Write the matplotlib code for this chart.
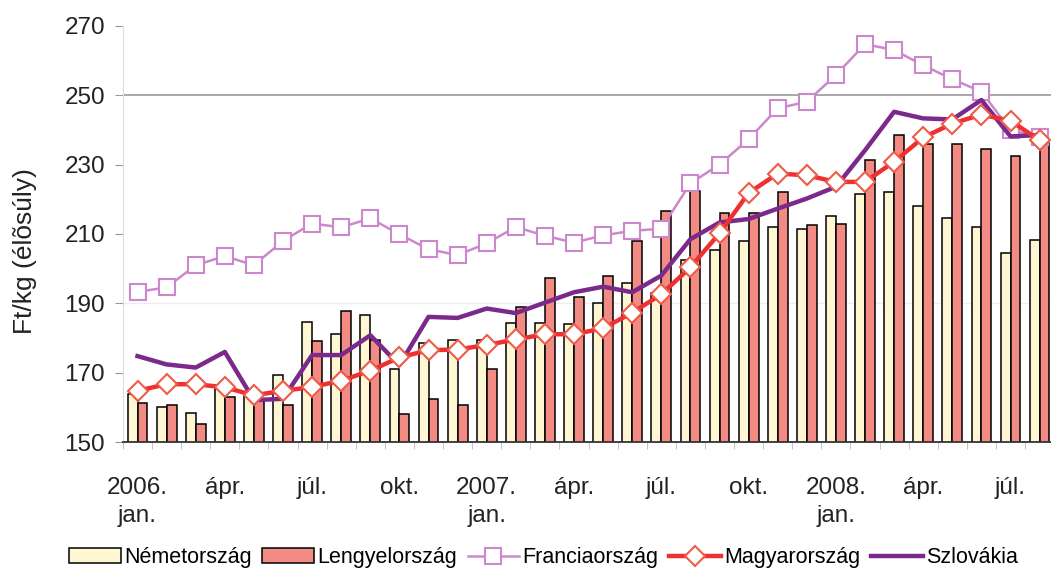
import matplotlib
matplotlib.use('Agg')
import matplotlib.pyplot as plt
import numpy as np

# Havi adatok: 2006. jan. - 2008. aug.
honapok = list(range(32))
tick_pos = [0, 3, 6, 9, 12, 15, 18, 21, 24, 27, 30]
tick_labels = ['2006.\njan.', 'ápr.', 'júl.', 'okt.',
               '2007.\njan.', 'ápr.', 'júl.', 'okt.',
               '2008.\njan.', 'ápr.', 'júl.']

nemetorszag = [164.0, 160.0, 158.5, 166.6, 164.0, 169.3, 184.7, 181.3,
               186.6, 171.2, 178.6, 179.4, 179.4, 184.2, 184.2, 184.0,
               190.0, 195.8, 193.0, 202.5, 205.3, 208.0, 211.9, 211.3,
               215.3, 221.4, 222.1, 218.0, 214.5, 211.9, 204.6, 208.2]
lengyelorszag = [161.3, 160.6, 155.2, 162.9, 162.0, 160.7, 179.2, 187.8,
                 179.4, 158.0, 162.5, 160.7, 171.2, 189.0, 197.4, 191.7,
                 197.8, 208.1, 216.6, 222.4, 216.1, 216.1, 222.1, 212.7,
                 212.8, 231.3, 238.5, 235.9, 235.8, 234.6, 232.5, 236.3]
franciaorszag = [193.3, 194.6, 201.0, 203.6, 201.0, 208.0, 213.0, 211.9,
                 214.5, 209.9, 205.6, 203.9, 207.3, 212.0, 209.5, 207.5,
                 209.6, 210.9, 211.5, 224.6, 230.0, 237.3, 246.2, 248.1,
                 255.8, 264.7, 263.0, 258.6, 254.6, 251.0, 239.9, 238.0]
magyarorszag = [164.8, 166.7, 166.7, 165.8, 163.5, 164.8, 165.9, 167.7,
                170.6, 174.4, 176.5, 176.7, 178.0, 179.6, 181.1, 181.1,
                182.8, 187.3, 192.6, 200.4, 210.2, 221.8, 227.4, 226.9,
                225.0, 225.0, 230.8, 237.8, 241.8, 244.4, 242.6, 237.0]
szlovakia = [174.8, 172.4, 171.5, 176.0, 162.1, 162.5, 175.1, 175.1,
             180.8, 172.2, 186.1, 185.8, 188.5, 187.2, 190.2, 193.2,
             194.8, 193.2, 198.0, 208.5, 213.3, 214.3, 217.3, 220.2,
             223.6, 234.1, 245.2, 243.3, 243.0, 248.6, 238.1, 238.5]

plt.rcParams['font.family'] = ['Liberation Sans', 'DejaVu Sans']

fig = plt.figure(figsize=(10.51, 5.72), dpi=100)
ax = fig.add_axes([0.117, 0.227, 0.886, 0.728])

x = np.array(honapok)
w = 0.34

# Oszlopok
b1 = ax.bar(x - w / 2, nemetorszag, w, color='#FFF7D4', edgecolor='black',
            linewidth=1.1, label='Németország', zorder=2)
b2 = ax.bar(x + w / 2, lengyelorszag, w, color='#F28B84', edgecolor='black',
            linewidth=1.1, label='Lengyelország', zorder=2)

# Vonalak
l1, = ax.plot(x, franciaorszag, color='#CC88CC', linewidth=1.8, marker='s',
              markersize=11, markerfacecolor='white',
              markeredgecolor='#CC88CC', markeredgewidth=1.5,
              label='Franciaország', zorder=3)
l2, = ax.plot(x, magyarorszag, color='#EE3030', linewidth=3.2, marker='D',
              markersize=10, markerfacecolor='white',
              markeredgecolor='#F05A48', markeredgewidth=1.5,
              label='Magyarország', zorder=4)
l3, = ax.plot(x, szlovakia, color='#7B2A8C', linewidth=3.2,
              label='Szlovákia', zorder=3)

# Tengelyek
ax.set_xlim(-0.5, 31.5)
ax.set_ylim(150, 270)
ax.set_yticks(range(150, 271, 20))
ax.set_xticks(tick_pos)
ax.set_xticklabels(tick_labels, linespacing=1.35)
ax.set_xticks(np.arange(-0.5, 32, 1), minor=True)
ax.tick_params(axis='x', which='major', length=0, pad=25, labelsize=17.5,
               colors='#222222')
ax.tick_params(axis='x', which='minor', length=5, color='#bbbbbb')
ax.tick_params(axis='y', length=6, color='#999999', labelsize=17.5,
               labelcolor='#222222', pad=7)

ax.axhline(250, color='#999999', linewidth=1.2, zorder=1)
ax.axhline(190, color='#eeeeee', linewidth=1.0, zorder=1)

for s in ['top', 'right']:
    ax.spines[s].set_visible(False)
ax.spines['left'].set_color('#dddddd')
ax.spines['bottom'].set_color('#333333')
ax.spines['bottom'].set_linewidth(1.3)

ax.set_ylabel('Ft/kg (élõsúly)', fontsize=19, color='#222222')
ax.yaxis.set_label_coords(-0.092, 0.46)

fig.legend([b1, b2, l1, l2, l3],
           ['Németország', 'Lengyelország', 'Franciaország',
            'Magyarország', 'Szlovákia'],
           loc='lower center', bbox_to_anchor=(0.517, -0.027), ncol=5,
           frameon=False, fontsize=15.5, handlelength=2.4, handletextpad=0.15,
           columnspacing=0.5)

fig.savefig('out.png', dpi=100)
